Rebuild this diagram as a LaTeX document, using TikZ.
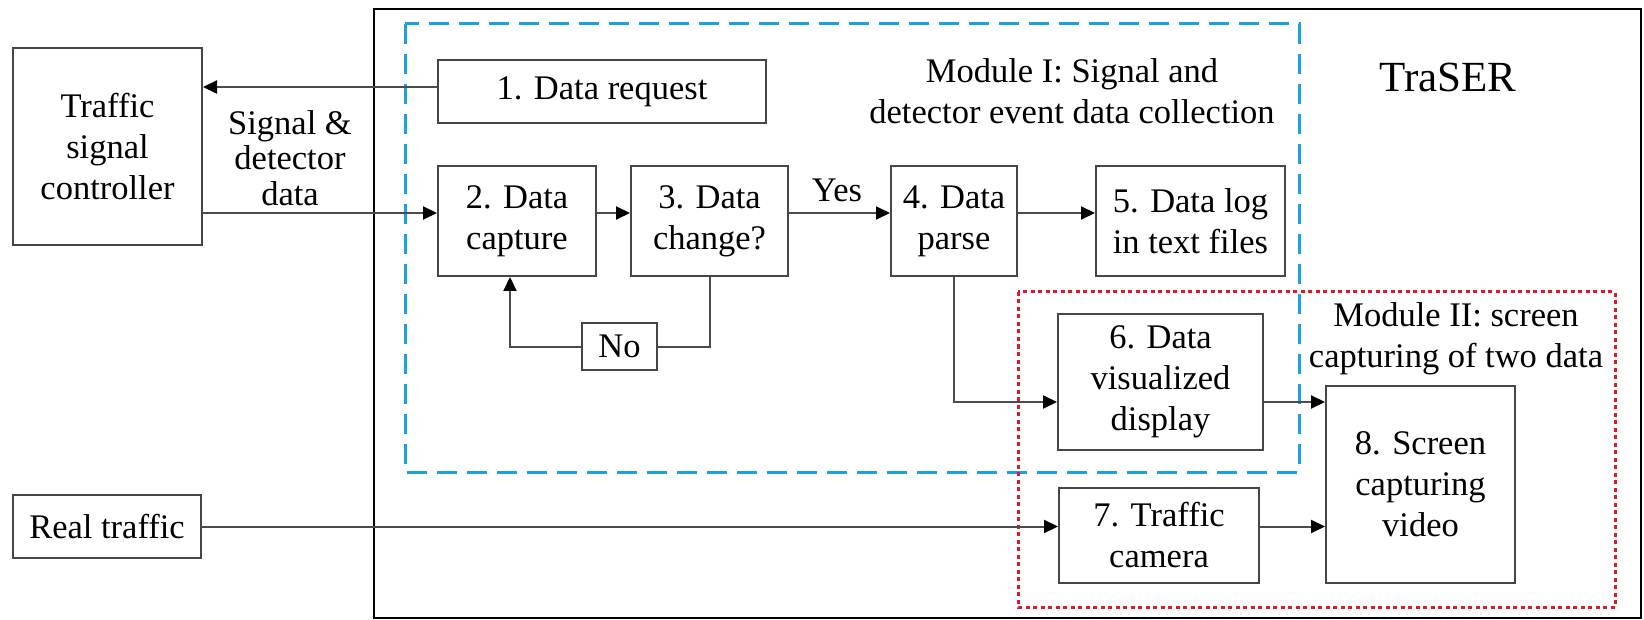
\documentclass[tikz,border=0pt]{standalone}
\usepackage{fontspec}
\setmainfont{Liberation Serif}
\usetikzlibrary{arrows.meta,calc}
\definecolor{boxgray}{RGB}{70,70,70}
\definecolor{linegray}{RGB}{75,75,75}
\definecolor{modblue}{RGB}{27,161,226}
\definecolor{modred}{RGB}{228,22,40}
\begin{document}
\begin{tikzpicture}[x=1pt,y=-1pt,
  box/.style={draw=boxgray, line width=2pt, rectangle, align=center, inner sep=0pt,
              font=\fontsize{34.5}{41}\selectfont, text=black},
  sz/.style 2 args={minimum width=#1pt, minimum height=#2pt},
  lbl/.style={align=center, inner sep=0pt, font=\fontsize{34.5}{41}\selectfont},
  arr/.style={draw=linegray, line width=2pt, -{Triangle[length=14pt,width=13pt,color=black]}},
  ln/.style={draw=linegray, line width=2pt},
  outerframe/.style={draw=black, line width=2.8pt},
  bluedash/.style={draw=modblue, line width=3pt, dash pattern=on 20pt off 10pt},
  reddot/.style={draw=modred, line width=3pt, dash pattern=on 4pt off 3.5pt},
]
\useasboundingbox (0,0) rectangle (1644,620);
% frames
\draw[outerframe] (374,9) rectangle (1641,618);
\draw[bluedash] (405,24) rectangle (1299,472);
\draw[reddot] (1018,292) rectangle (1615,607);
% nodes
\node[box, sz={189}{197}] (tsc) at (107.5,146.5) {Traffic\\signal\\controller};
\node[box, sz={188}{63}] (rt) at (107,526.5) {Real traffic};
\node[box, sz={328}{63}] (n1) at (602,91.5) {1. Data request};
\node[box, sz={158}{110}] (n2) at (517,221) {2. Data\\capture};
\node[box, sz={157}{110}] (n3) at (709.5,221) {3. Data\\change?};
\node[box, sz={126}{110}] (n4) at (954,221) {4. Data\\parse};
\node[box, sz={189}{110}] (n5) at (1190.5,221) {5. Data log\\in text files};
\node[box, sz={75}{47}] (no) at (619.5,346.5) {No};
\node[box, sz={205}{136}] (n6) at (1160.5,382) {6. Data\\visualized\\display};
\node[box, sz={200}{95}] (n7) at (1159,535.5) {7. Traffic\\camera};
\node[box, sz={189}{197}] (n8) at (1420.5,484.5) {8. Screen\\capturing\\video};
% labels
\node[lbl, font=\fontsize{34.5}{35.5}\selectfont] (sdd) at (290,158) {Signal \&\\detector\\data};
\node[lbl] (yes) at (837,190) {Yes};
\node[lbl] (m1) at (1072,91) {Module I: Signal and\\detector event data collection};
\node[lbl, font=\fontsize{43}{50}\selectfont] (traser) at (1448,77) {TraSER};
\node[lbl] (m2) at (1456,339) {Module II: screen\\capturing of two data};
% connectors
\coordinate (row) at (0,213);
\draw[arr] ([yshift=4.5pt]n1.west) -- ([yshift=4.5pt]n1.west -| tsc.east);
\draw[arr] (tsc.east |- row) -- (n2.west |- row);
\draw[arr] (n2.east |- row) -- (n3.west |- row);
\draw[arr] (n3.east |- row) -- (n4.west |- row);
\draw[arr] (n4.east |- row) -- (n5.west |- row);
\draw[ln] (n3.south) |- (no.east);
\draw[arr] (no.west) -| ([xshift=-7pt]n2.south);
\draw[arr] (n4.south) |- ([yshift=-20pt]n6.west);
\draw[arr] ([yshift=-20pt]n6.east) -- ([yshift=-20pt]n6.east -| n8.west);
\draw[arr] (rt.east) -- (rt.east -| n7.west);
\draw[arr] (rt.east -| n7.east) -- (rt.east -| n8.west);
\end{tikzpicture}
\end{document}
